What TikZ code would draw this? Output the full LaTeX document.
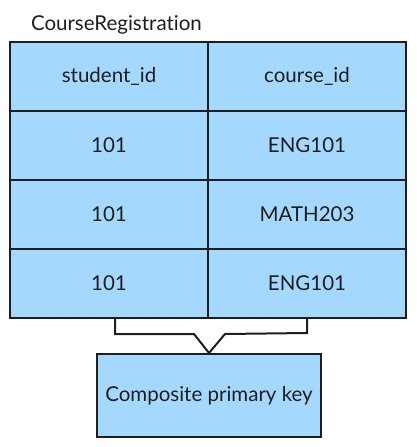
\documentclass[tikz,border=0pt]{standalone}
\usepackage{fontspec}
\setmainfont{Lato}[Ligatures=NoCommon]
\definecolor{cellblue}{HTML}{A5D8FF}
\definecolor{ink}{HTML}{1E1E1E}
\begin{document}
\begin{tikzpicture}[x=1pt,y=-1pt,line width=2pt,
    every node/.style={text=ink,font=\fontsize{20.5}{24}\selectfont},
    cell/.style={draw=ink,fill=cellblue,minimum width=198pt,minimum height=69pt,inner sep=0pt}]
  \useasboundingbox(0,0)rectangle(417,447);
  \node[anchor=base west,inner sep=0pt](title)at(30,30.5){CourseRegistration};
  \foreach \r/\a/\b in{0/student\_id/course\_id,1/101/ENG101,2/101/MATH203,3/101/ENG101}{
    \node[cell](s\r)at(109,76.5+69*\r){\a};
    \node[cell](c\r)at(307,76.5+69*\r){\b};
  }
  \node[cell,minimum width=224pt,minimum height=83pt](key)at(209,395.5){Composite primary key};
  \draw[ink]([xshift=6pt]s3.south)--++(0,15)--(194,334)--(key.north)
     --(225,334)--(307,333)--(c3.south);
\end{tikzpicture}
\end{document}
